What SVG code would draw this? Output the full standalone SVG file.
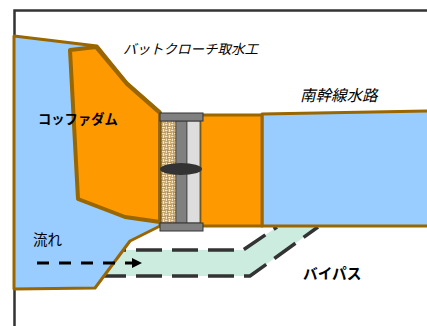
<svg xmlns="http://www.w3.org/2000/svg" width="427" height="326" viewBox="0 0 427 326">
  <style>
    .lbl { font-family: "Noto Sans CJK JP", "Noto Sans", sans-serif; fill: #000; }
    .ital { font-style: italic; }
    .bold { font-weight: bold; }
    .brown { stroke: #996600; stroke-linejoin: round; }
    .bypass-edge { fill: none; stroke: #333; stroke-width: 3.5; stroke-dasharray: 26 10; }
  </style>
  <defs>
    <!-- woven sand-bag texture for the gate filler -->
    <pattern id="weave" width="6" height="6" patternUnits="userSpaceOnUse">
      <rect width="6" height="6" fill="#c9a870"/>
      <path d="M0 1.5 H3 M3 4.5 H6" stroke="#f2e4c4" stroke-width="1.2"/>
      <path d="M4.5 0 V3 M1.5 3 V6" stroke="#f2e4c4" stroke-width="1.2"/>
      <path d="M0 0 H6 V6" fill="none" stroke="#8f6f3c" stroke-width="0.6"/>
    </pattern>
    <marker id="arrowhead" markerWidth="10" markerHeight="10" refX="8" refY="5" orient="auto" markerUnits="userSpaceOnUse">
      <path d="M0 0 L10 5 L0 10 Z" fill="#000"/>
    </marker>
  </defs>

  <rect width="427" height="326" fill="#fff"/>

  <!-- outer frame -->
  <path d="M14.5 326 V10.5 H427" fill="none" stroke="#333" stroke-width="2.5"/>

  <!-- bypass channel -->
  <g id="bypass">
    <polygon points="100,250 243,250 277,227 318,227 250,276 100,276" fill="#cdece0"/>
  </g>
  <g id="connectors">
    <path class="bypass-edge" d="M100 250 H243 L277 227"/>
    <path class="bypass-edge" d="M100 276 H250 L318 227"/>
  </g>

  <!-- upstream water -->
  <g id="reservoir">
    <polygon class="brown" points="14,36 97,46 127,83 160,112 160,226 130,241 95,288 14,289" fill="#99ccff" stroke-width="3"/>
  </g>

  <!-- cofferdam -->
  <g id="cofferdam">
    <polygon class="brown" points="70,50 96,47 127,84 160,113 160,222 125,217 78,199" fill="#ff9900" stroke-width="4"/>
  </g>

  <!-- south main canal -->
  <g id="canal">
    <polygon class="brown" points="262,114 430,111 430,226 262,226" fill="#99ccff" stroke-width="3"/>
  </g>

  <!-- intake block -->
  <g id="intake-block">
    <rect class="brown" x="200" y="115" width="62" height="111" fill="#ff9900" stroke-width="3"/>
  </g>

  <!-- gate -->
  <g id="gate">
    <rect x="161" y="121" width="15" height="102" fill="url(#weave)" stroke="#444" stroke-width="0.8"/>
    <rect x="176" y="121" width="11" height="102" fill="#808080" stroke="#444" stroke-width="0.8"/>
    <rect x="187" y="121" width="13" height="102" fill="#dddddd" stroke="#444" stroke-width="0.8"/>
    <rect x="160" y="113" width="43" height="8" fill="#808080" stroke="#333" stroke-width="1"/>
    <rect x="160" y="223" width="43" height="8" fill="#808080" stroke="#333" stroke-width="1"/>
    <ellipse cx="181" cy="169" rx="21" ry="6" fill="#333"/>
  </g>

  <!-- flow arrow -->
  <g id="flow">
    <path d="M37 263 H140" fill="none" stroke="#000" stroke-width="3" stroke-dasharray="12 10" marker-end="url(#arrowhead)"/>
  </g>

  <!-- labels -->
  <text class="lbl ital" x="123" y="54" font-size="13.5">バットクローチ取水工</text>
  <text class="lbl ital" x="300" y="101" font-size="15.5">南幹線水路</text>
  <text class="lbl bold" x="38" y="124" font-size="13.3">コッファダム</text>
  <text class="lbl" x="33" y="245" font-size="14.5">流れ</text>
  <text class="lbl bold" x="303" y="279" font-size="14.7">バイパス</text>
</svg>
